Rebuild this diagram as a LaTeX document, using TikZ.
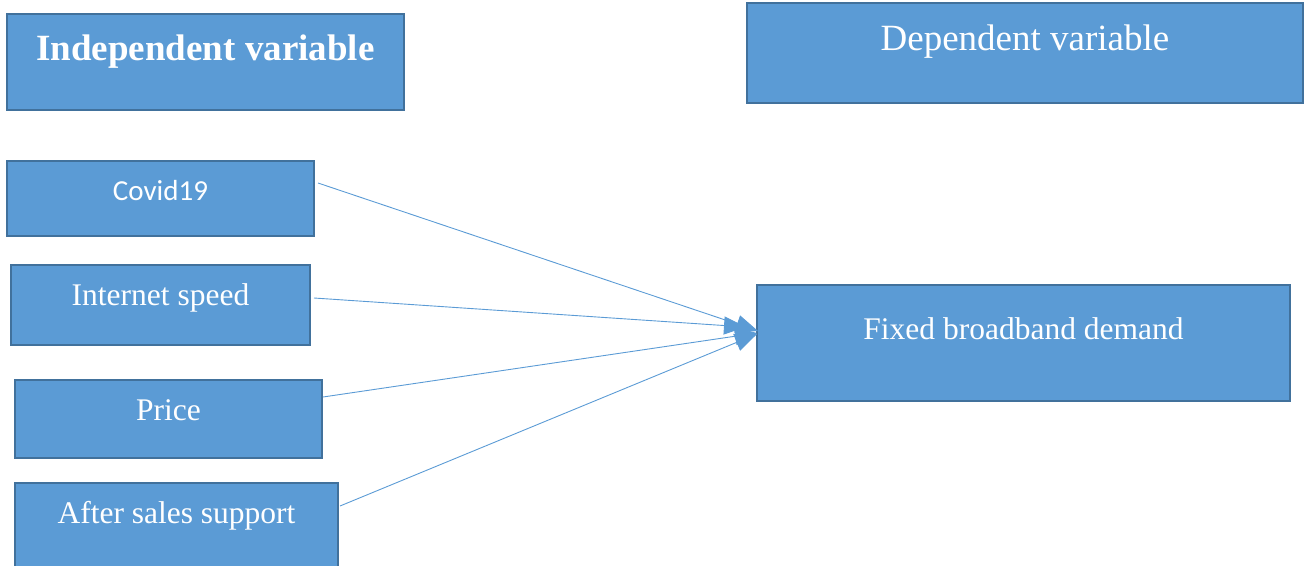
\documentclass[tikz,border=0pt]{standalone}
\usepackage{fontspec}
\setmainfont{Liberation Serif}
\newfontfamily\calfont{Carlito}
\usetikzlibrary{arrows.meta}
\definecolor{boxfill}{HTML}{5B9BD5}
\definecolor{boxline}{HTML}{41719C}
\definecolor{linkc}{HTML}{5B9BD5}
\tikzset{
  vbox/.style={draw=boxline, fill=boxfill, line width=2pt, anchor=north west, inner sep=0pt, outer sep=0pt},
  vtext/.style={text=white, anchor=base, inner sep=0pt},
  link/.style={draw=linkc, line width=0.9pt, -{Triangle[length=22pt,width=18pt]}}
}
\begin{document}
\begin{tikzpicture}[x=1pt,y=-1pt]
\useasboundingbox (0,0) rectangle (1304,565);
\clip (0,0) rectangle (1304,565);
\node[vbox, minimum width=397pt, minimum height=96pt] (indep) at (7,14) {};
\node[vbox, minimum width=556pt, minimum height=100pt] (dep) at (747,3) {};
\node[vbox, minimum width=307pt, minimum height=75pt] (cov) at (7,161) {};
\node[vbox, minimum width=299pt, minimum height=80pt] (inet) at (11,265) {};
\node[vbox, minimum width=307pt, minimum height=78pt] (price) at (15,380) {};
\node[vbox, minimum width=323pt, minimum height=100pt] (after) at (15,483) {};
\node[vbox, minimum width=533pt, minimum height=116pt] (fixed) at (757,285) {};

\node[vtext, font=\fontsize{37}{40}\selectfont\bfseries] (tindep) at (205.5,60) {Independent variable};
\node[vtext, font=\fontsize{37}{40}\selectfont] (tdep) at (1025,50) {Dependent variable};
\node[vtext, font=\calfont\fontsize{29}{32}\selectfont] (tcov) at (160.5,200) {Covid19};
\node[vtext, font=\fontsize{31.5}{36}\selectfont] (tinet) at (160.5,305) {Internet speed};
\node[vtext, font=\fontsize{31.5}{36}\selectfont] (tprice) at (168.5,420) {Price};
\node[vtext, font=\fontsize{31.5}{36}\selectfont] (tafter) at (176.5,523) {After sales support};
\node[vtext, font=\fontsize{31.5}{36}\selectfont] (tfixed) at (1023.5,339) {Fixed broadband demand};

\coordinate (scov) at (318,183);
\coordinate (sinet) at (314,298);
\coordinate (sprice) at (323,397);
\coordinate (safter) at (340,506);
\coordinate (ecov) at (758,331);
\coordinate (einet) at (746,327);
\coordinate (eprice) at (757,333);
\coordinate (eafter) at (757,334);

\draw[link] (scov) -- (ecov);
\draw[link] (sinet) -- (einet);
\draw[link] (sprice) -- (eprice);
\draw[link] (safter) -- (eafter);
\end{tikzpicture}
\end{document}
